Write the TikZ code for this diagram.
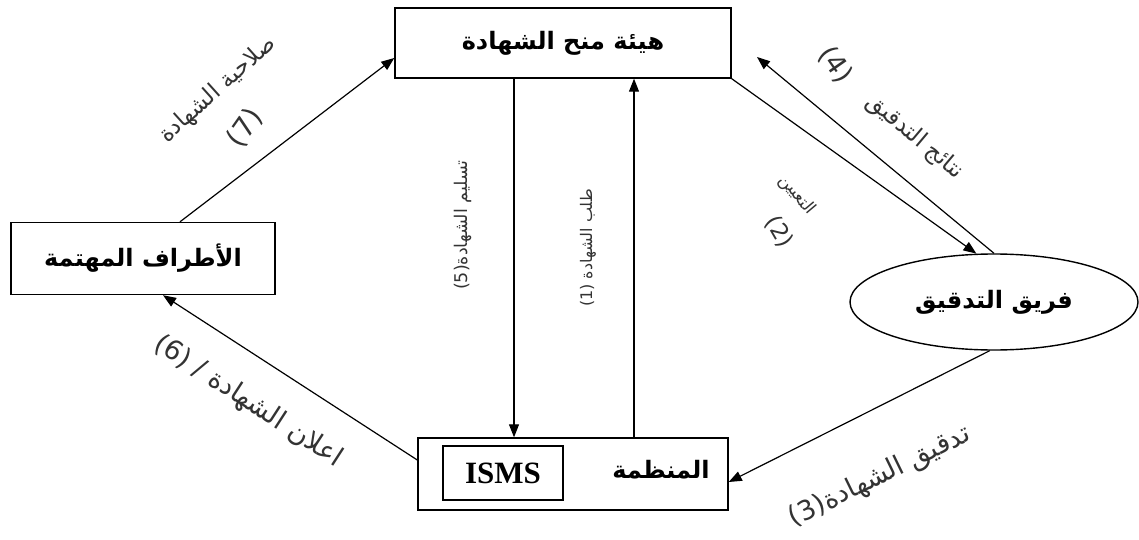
\documentclass[tikz,border=0pt]{standalone}
\usepackage{fontspec}
\setmainfont{Liberation Serif}
\TeXXeTstate=1
\newfontfamily\arabicfont[Script=Arabic]{DejaVu Sans}
\usetikzlibrary{arrows.meta,shapes.geometric}
\tikzset{
  box/.style={draw, line width=1.4pt, rectangle, inner sep=0pt},
  arr/.style={-{Triangle[length=13pt,width=10pt]}, line width=1.2pt},
  lbl/.style={text=black!80, font=\arabicfont\fontsize{#1}{#1}\selectfont, inner sep=0pt},
  lbl/.default=16,
  boxtxt/.style={font=\arabicfont\bfseries\fontsize{24}{26}\selectfont}
}
\begin{document}
\begin{tikzpicture}[x=1pt,y=1pt]
\useasboundingbox (0,0) rectangle (1139,-540);
% nodes
\node[box, minimum width=336pt, minimum height=70pt, boxtxt] (top) at (563,-43) {\beginR هيئة منح الشهادة\endR};
\node[box, minimum width=264pt, minimum height=72pt, boxtxt] (left) at (143,-258.5) {\beginR الأطراف المهتمة\endR};
\node[box, minimum width=310pt, minimum height=72pt] (org) at (573,-474) {};
\node[boxtxt] (orgtxt) at (661,-470) {\beginR المنظمة\endR};
\node[box, line width=1.2pt, minimum width=120pt, minimum height=54pt, font=\bfseries\fontsize{31}{33}\selectfont] (isms) at (503,-473) {ISMS};
\node[draw, line width=1.4pt, ellipse, minimum width=288pt, minimum height=96pt, inner sep=0pt, boxtxt] (e) at (994,-302) {\beginR فريق التدقيق\endR};
% coordinates
\coordinate (dx) at (514,0);
\coordinate (ux) at (634,0);
\coordinate (r4) at (757,-57);
% connectors
\draw[arr] ([xshift=37pt]left.north) -- ([yshift=-15pt]top.west);
\draw[arr] (top.south -| dx) -- (org.north -| dx);
\draw[arr] (org.north -| ux) -- (top.south -| ux);
\draw[arr] (top.south east) -- (e.110);
\draw[arr] (e.north) -- (r4);
\draw[arr] (e.265) -- ([yshift=-8pt]org.east);
\draw[arr] ([yshift=14pt]org.west) -- ([xshift=20pt]left.south);
% labels
\node[lbl=23, rotate=42] (l7) at (218,-90) {\beginR صلاحية الشهادة\endR};
\node[lbl=28, rotate=55] (n7) at (245,-128) {(7)};
\node[lbl=23, rotate=-40] (l4) at (915,-137) {\beginR نتائج التدقيق\endR};
\node[lbl=27, rotate=-55] (n4) at (835,-65) {(4)};
\node[lbl=17, rotate=-50] (l2) at (797,-195) {\beginR التعيين\endR};
\node[lbl=23, rotate=-60] (n2) at (779,-232) {(2)};
\node[lbl=17.5, rotate=90] (l5) at (463,-225) {(5)\beginR تسليم الشهادة\endR};
\node[lbl=16, rotate=90] (l1) at (588,-248) {(1) \beginR طلب الشهادة\endR};
\node[lbl=27, rotate=-33] (l6) at (248,-402) {(6) / \beginR اعلان الشهادة\endR};
\node[lbl=27, rotate=26] (l3) at (880,-477) {(3)\beginR تدقيق الشهادة\endR};
\end{tikzpicture}
\end{document}
